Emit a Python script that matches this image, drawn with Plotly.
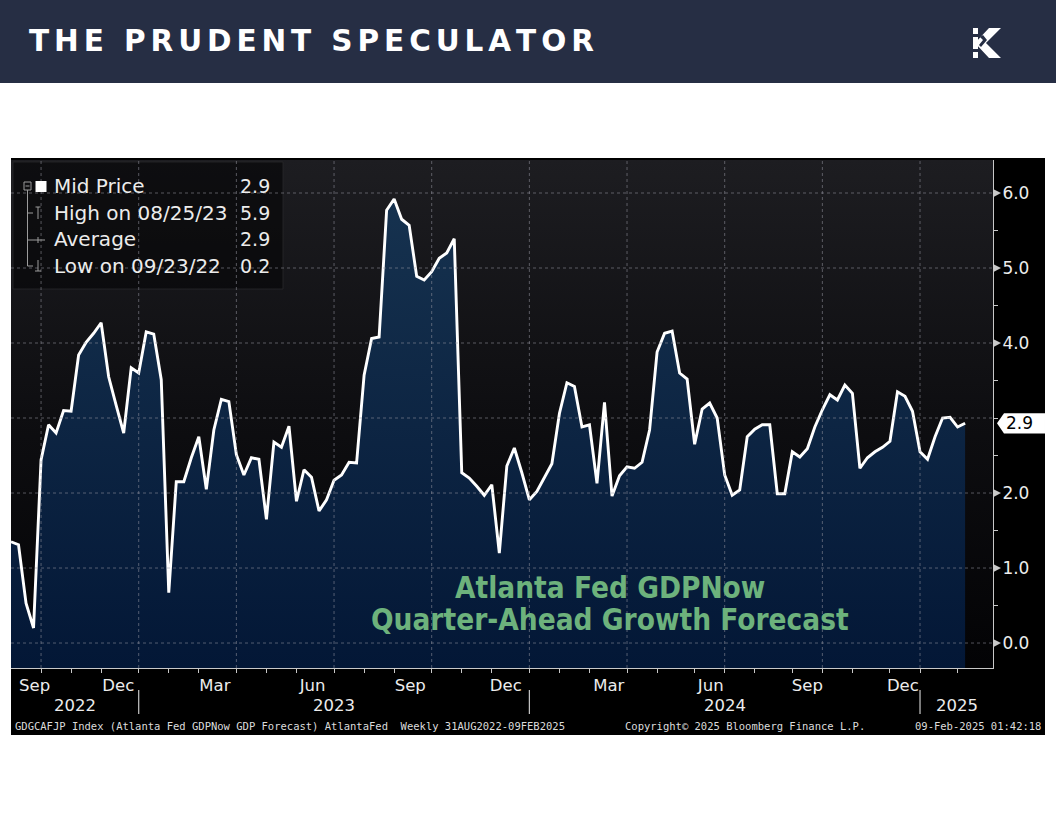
import pandas as pd
import plotly.graph_objects as go

# ------------------------------------------------------------------ data
start_date = "2022-09-02"          # first weekly (Friday) observation
gdp_values = [
    1.35, 1.31, 0.53, 0.20, 2.44, 2.91, 2.80, 3.10, 3.09, 3.84,
    4.01, 4.13, 4.27, 3.55, 3.17, 2.80, 3.67, 3.60, 4.15, 4.12,
    3.51, 0.67, 2.15, 2.15, 2.47, 2.75, 2.05, 2.84, 3.25, 3.22,
    2.51, 2.24, 2.47, 2.45, 1.65, 2.68, 2.61, 2.89, 1.89, 2.31,
    2.21, 1.76, 1.91, 2.17, 2.24, 2.41, 2.40, 3.57, 4.06, 4.08,
    5.77, 5.92, 5.65, 5.57, 4.89, 4.84, 4.95, 5.13, 5.20, 5.39,
    2.27, 2.20, 2.09, 1.97, 2.11, 1.20, 2.36, 2.60, 2.27, 1.91,
    2.02, 2.21, 2.39, 3.06, 3.47, 3.42, 2.88, 2.91, 2.13, 3.21,
    1.96, 2.23, 2.35, 2.33, 2.41, 2.84, 3.88, 4.13, 4.16, 3.60,
    3.52, 2.65, 3.12, 3.20, 3.00, 2.24, 1.97, 2.04, 2.75, 2.85,
    2.91, 2.91, 1.99, 1.99, 2.55, 2.48, 2.59, 2.88, 3.11, 3.31,
    3.24, 3.44, 3.33, 2.33, 2.47, 2.55, 2.61, 2.69, 3.35, 3.29,
    3.09, 2.55, 2.45, 2.75, 3.00, 3.01, 2.88, 2.93,
]
grid_vals = [0, 1, 2, 3, 4, 5, 6]
ytick_vals = [0, 1, 2, 4, 5, 6]          # 3.0 is hidden behind the last-value callout
ytick_text = ["0.0", "1.0", "2.0", "4.0", "5.0", "6.0"]
month_label_dates = ["2022-09-24", "2022-12-11", "2023-03-11", "2023-06-10",
                     "2023-09-09", "2023-12-07", "2024-03-12", "2024-06-15",
                     "2024-09-13", "2024-12-11"]
month_labels = ["Sep", "Dec", "Mar", "Jun", "Sep", "Dec", "Mar", "Jun", "Sep", "Dec"]
year_labels = ["2022", "2023", "2024", "2025"]
title_text = "THE PRUDENT SPECULATOR"
note_lines = ["Atlanta Fed GDPNow", "Quarter-Ahead Growth Forecast"]
footer_left = "GDGCAFJP Index (Atlanta Fed GDPNow GDP Forecast) AtlantaFed\u00a0 Weekly 31AUG2022-09FEB2025"
footer_mid = "Copyright\u00a9 2025 Bloomberg Finance L.P."
footer_right = "09-Feb-2025 01:42:18"
x_range = ["2022-09-02", "2025-03-05"]
y_range = [-0.333, 6.44]

# ------------------------------------------------------------------ derived
dates = pd.date_range(start_date, periods=len(gdp_values), freq="7D")
s = pd.Series(gdp_values, index=dates)
n = len(dates)
quarter_grid = [dates[i] for i in range(n - 1) if dates[i].quarter != dates[i + 1].quarter]
month_ticks = [dates[i] for i in range(n - 1) if dates[i].month != dates[i + 1].month]
year_seps = [d for d in quarter_grid if d.month == 12]

last_v = s.iloc[-1]
hi_d, hi_v = s.idxmax(), s.max()
lo_d, lo_v = s.idxmin(), s.min()
avg_v = s.mean()
legend_rows = [("Mid Price", last_v),
               ("High on " + hi_d.strftime("%m/%d/%y"), hi_v),
               ("Average", avg_v),
               ("Low on " + lo_d.strftime("%m/%d/%y"), lo_v)]

# ------------------------------------------------------------------ geometry helpers (page pixels -> paper)
W, H = 1056, 816
L, R, T, B = 11, 993, 160, 668


def px(x):
    return (x - L) / (R - L)


def py(y):
    return (B - y) / (B - T)


def poly(points):
    return "M " + " L ".join(f"{px(a):.5f},{py(b):.5f}" for a, b in points) + " Z"


TXT = "#ececec"
GRID = "rgba(150,150,160,0.55)"
AXIS = "#c8c8c8"

fig = go.Figure()

x0, x1 = pd.Timestamp(x_range[0]), pd.Timestamp(x_range[1])
# plot background gradient
fig.add_trace(go.Scatter(
    x=[x0, x1, x1, x0, x0], y=[y_range[0], y_range[0], y_range[1], y_range[1], y_range[0]],
    mode="lines", line=dict(width=0), fill="toself",
    fillgradient=dict(type="vertical", colorscale=[[0, "#030305"], [0.5, "#0e0e11"], [1, "#1d1d21"]]),
    hoverinfo="skip", showlegend=False))
# baseline for the area
fig.add_trace(go.Scatter(x=dates, y=[y_range[0]] * n, mode="lines", line=dict(width=0),
                         hoverinfo="skip", showlegend=False))
# main series
fig.add_trace(go.Scatter(
    x=dates, y=gdp_values, mode="lines", line=dict(color="white", width=2.9),
    fill="tonexty",
    fillgradient=dict(type="vertical", colorscale=[[0, "#031736"], [1, "#16324f"]]),
    name="Mid Price", showlegend=False))

shapes = []
# header band and black chart panel
shapes.append(dict(type="rect", xref="paper", yref="paper", x0=px(0), x1=px(W), y0=py(83), y1=py(0),
                   fillcolor="#262e44", line=dict(width=0), layer="below"))
shapes.append(dict(type="rect", xref="paper", yref="paper", x0=px(11), x1=px(1045), y0=py(735), y1=py(158),
                   fillcolor="#000000", line=dict(width=0), layer="below"))
# legend box
shapes.append(dict(type="rect", xref="paper", yref="paper", x0=px(13), x1=px(283), y0=py(289), y1=py(162),
                   fillcolor="rgba(8,8,10,0.72)", line=dict(color="rgba(40,40,44,0.8)", width=1), layer="above"))
# dotted grid lines (drawn above the area like the reference)
for v in grid_vals:
    shapes.append(dict(type="line", xref="paper", yref="y", x0=0, x1=1, y0=v, y1=v,
                       line=dict(color=GRID, width=1, dash="dot"), layer="above"))
for d in quarter_grid:
    shapes.append(dict(type="line", xref="x", yref="paper", x0=d, x1=d, y0=0, y1=1,
                       line=dict(color=GRID, width=1, dash="dot"), layer="above"))
# right-axis wedges
for v in ytick_vals:
    shapes.append(dict(type="path", xref="paper", yref="y",
                       path=f"M {px(993):.5f},{v - 0.055} L {px(1001):.5f},{v} L {px(993):.5f},{v + 0.055} Z",
                       fillcolor=AXIS, line=dict(width=0), layer="above"))
# last value callout
h = 0.135
shapes.append(dict(type="path", xref="paper", yref="y",
                   path=(f"M {px(997):.5f},{last_v} L {px(1004):.5f},{last_v + h} L {px(1045):.5f},{last_v + h} "
                         f"L {px(1045):.5f},{last_v - h} L {px(1004):.5f},{last_v - h} Z"),
                   fillcolor="white", line=dict(width=0), layer="above"))
# year separators
for d in year_seps:
    shapes.append(dict(type="line", xref="x", yref="paper", x0=d, x1=d, y0=py(714), y1=py(690),
                       line=dict(color=AXIS, width=1.2)))
# legend tree icons
LG = "#9c9c9c"
shapes.append(dict(type="rect", xref="paper", yref="paper", x0=px(24), x1=px(31), y0=py(190), y1=py(182),
                   line=dict(color=LG, width=1), fillcolor="rgba(0,0,0,0)"))
shapes.append(dict(type="line", xref="paper", yref="paper", x0=px(25.5), x1=px(29.5), y0=py(186), y1=py(186),
                   line=dict(color=LG, width=1)))
shapes.append(dict(type="line", xref="paper", yref="paper", x0=px(27.5), x1=px(27.5), y0=py(266), y1=py(190),
                   line=dict(color=LG, width=1)))
for yy in (213, 240, 266):
    shapes.append(dict(type="line", xref="paper", yref="paper", x0=px(27.5), x1=px(33), y0=py(yy), y1=py(yy),
                       line=dict(color=LG, width=1)))
shapes.append(dict(type="rect", xref="paper", yref="paper", x0=px(35.5), x1=px(46.5), y0=py(192), y1=py(181),
                   fillcolor="white", line=dict(width=0)))
shapes.append(dict(type="line", xref="paper", yref="paper", x0=px(38), x1=px(38), y0=py(219), y1=py(207),
                   line=dict(color=LG, width=1)))
shapes.append(dict(type="line", xref="paper", yref="paper", x0=px(35.5), x1=px(40.5), y0=py(207), y1=py(207),
                   line=dict(color=LG, width=1)))
shapes.append(dict(type="line", xref="paper", yref="paper", x0=px(33), x1=px(45), y0=py(240), y1=py(240),
                   line=dict(color=LG, width=1)))
shapes.append(dict(type="line", xref="paper", yref="paper", x0=px(38), x1=px(38), y0=py(243), y1=py(237),
                   line=dict(color=LG, width=1)))
shapes.append(dict(type="line", xref="paper", yref="paper", x0=px(38), x1=px(38), y0=py(271), y1=py(260),
                   line=dict(color=LG, width=1)))
shapes.append(dict(type="line", xref="paper", yref="paper", x0=px(35), x1=px(41), y0=py(271), y1=py(271),
                   line=dict(color=LG, width=1)))
# logo (stylised K)
shapes.append(dict(type="path", xref="paper", yref="paper",
                   path=poly([(989, 28), (1001, 28), (986, 43), (1001, 58), (989, 58), (975, 43)]),
                   fillcolor="white", line=dict(width=0)))
for (ya, yb) in ((28, 34), (37, 49), (52, 58)):
    shapes.append(dict(type="path", xref="paper", yref="paper",
                       path=poly([(973, ya), (978, ya), (978, yb), (973, yb)]),
                       fillcolor="white", line=dict(width=0)))
shapes.append(dict(type="path", xref="paper", yref="paper",
                   path=poly([(983, 35), (987, 40), (981, 47), (979, 45), (983, 40), (980, 37)]),
                   fillcolor="#262e44", line=dict(width=0)))

annotations = []
spaced_title = "\u2006".join(list(title_text))
annotations.append(dict(xref="paper", yref="paper", x=px(27), y=py(41), xanchor="left", yanchor="middle",
                        text=spaced_title, showarrow=False,
                        font=dict(family="DejaVu Sans", size=29.5, color="white", weight="bold")))
# year labels (centred in each visible year span)
bounds = [x0] + year_seps + [x1]
for i, yl in enumerate(year_labels):
    mid = bounds[i] + (bounds[i + 1] - bounds[i]) / 2
    annotations.append(dict(xref="x", yref="paper", x=mid, y=py(705), xanchor="center", yanchor="middle",
                            text=yl, showarrow=False, font=dict(family="DejaVu Sans", size=16.5, color=TXT)))
# legend text
for i, (name, val) in enumerate(legend_rows):
    yy = 186 + i * 26.7
    annotations.append(dict(xref="paper", yref="paper", x=px(52), y=py(yy), xanchor="left", yanchor="middle",
                            text=name, showarrow=False, font=dict(family="DejaVu Sans", size=20, color=TXT)))
    annotations.append(dict(xref="paper", yref="paper", x=px(272), y=py(yy), xanchor="right", yanchor="middle",
                            text=f"{val:.1f}", showarrow=False, font=dict(family="DejaVu Sans", size=19, color=TXT)))
# green note
for i, line in enumerate(note_lines):
    annotations.append(dict(xref="paper", yref="paper", x=px(610), y=py(588 + 32 * i), xanchor="center",
                            yanchor="middle", text=line, showarrow=False,
                            font=dict(family="DejaVu Sans Condensed, DejaVu Sans", size=29.5, color="#6db27c",
                                      weight="bold")))
# callout text
annotations.append(dict(xref="paper", yref="y", x=px(1004), y=last_v, xanchor="left", yanchor="middle",
                        text=f"{last_v:.1f}", showarrow=False,
                        font=dict(family="DejaVu Sans", size=17, color="black")))
# footer
for txt, xx, anc in ((footer_left, 13, "left"), (footer_mid, 623, "left"), (footer_right, 1043, "right")):
    annotations.append(dict(xref="paper", yref="paper", x=px(xx), y=py(726), xanchor=anc, yanchor="middle",
                            text=txt, showarrow=False,
                            font=dict(family="DejaVu Sans Mono", size=10.5, color="#dcdcdc")))

fig.update_layout(
    width=W, height=H, autosize=False,
    margin=dict(l=L, r=W - R, t=T, b=H - B, pad=0),
    paper_bgcolor="white", plot_bgcolor="rgba(0,0,0,0)",
    showlegend=False, hovermode=False,
    shapes=shapes, annotations=annotations,
    xaxis=dict(type="date", range=x_range, tickmode="array", tickvals=month_label_dates,
               ticktext=month_labels, ticks="", showgrid=False, zeroline=False,
               showline=True, linecolor=AXIS, linewidth=1, ticklabelstandoff=2,
               tickfont=dict(family="DejaVu Sans", size=16.5, color=TXT),
               minor=dict(tickmode="array", tickvals=month_ticks, ticks="outside", ticklen=4,
                          tickcolor=AXIS, showgrid=False)),
    yaxis=dict(side="right", range=y_range, tickmode="array", tickvals=ytick_vals, ticktext=ytick_text,
               ticks="", showgrid=False, zeroline=False, showline=True, linecolor=AXIS, linewidth=1,
               ticklabelstandoff=5,
               tickfont=dict(family="DejaVu Sans", size=17, color=TXT),
               minor=dict(dtick=0.5, tick0=0, ticks="outside", ticklen=4, tickcolor=AXIS, showgrid=False)),
)

fig.write_html("out.html", config={"displayModeBar": False},
               post_script="document.body.style.margin='0';")
